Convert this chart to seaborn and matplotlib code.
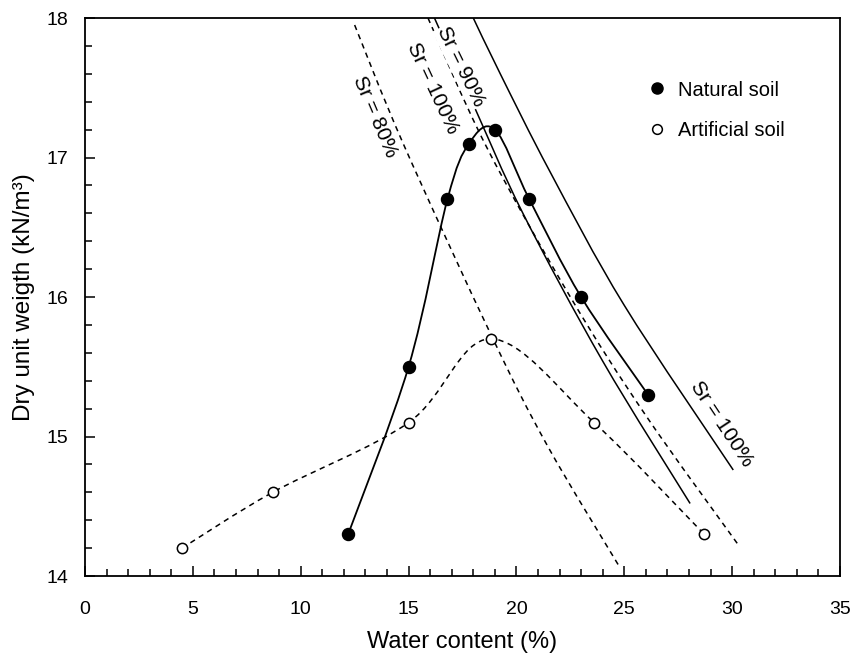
import numpy as np
import pandas as pd
import matplotlib
matplotlib.use("Agg")
import matplotlib.pyplot as plt
from matplotlib.path import Path
from matplotlib.patches import PathPatch
from matplotlib.lines import Line2D
from matplotlib.ticker import MultipleLocator
import seaborn as sns

# ---- data ----
natural_w = [12.2, 15.0, 16.8, 17.8, 19.0, 20.6, 23.0, 26.1]
natural_gd = [14.3, 15.5, 16.7, 17.1, 17.2, 16.7, 16.0, 15.3]

artificial_w = [4.5, 8.7, 15.0, 18.8, 23.6, 28.7]
artificial_gd = [14.2, 14.6, 15.1, 15.7, 15.1, 14.3]

# saturation lines
sr80_w = [12.5, 14.75, 18.85, 21.45, 24.8]
sr80_gd = [17.95, 17.1, 15.72, 14.93, 14.06]

sr100a_w = [15.9, 18.6, 22.5, 26.0, 30.3]
sr100a_gd = [18.0, 17.08, 16.0, 15.15, 14.22]

sr90n_w = [16.2, 18.0, 20.3, 24.0, 28.05]
sr90n_gd = [18.0, 17.38, 16.6, 15.54, 14.52]

sr100n_w = [18.0, 19.25, 21.55, 25.0, 30.05]
sr100n_gd = [18.0, 17.6, 16.9, 15.94, 14.76]

x_ticks = [0, 5, 10, 15, 20, 25, 30, 35]
y_ticks = [14, 15, 16, 17, 18]

sns.set_theme(style="white")
plt.rcParams['font.family'] = ['Liberation Sans', 'DejaVu Sans']
plt.rcParams.update({'text.color': 'black', 'axes.labelcolor': 'black',
                     'xtick.color': 'black', 'ytick.color': 'black'})

fig = plt.figure(figsize=(8.55, 6.58), dpi=100)
ax = fig.add_axes([0.0994, 0.1246, 0.8831, 0.848])

def smooth_path(xs, ys):
    """Excel-like smoothed line: cubic Bezier segments through the points."""
    P = np.column_stack([xs, ys]).astype(float)
    n = len(P)
    verts = [tuple(P[0])]
    codes = [Path.MOVETO]
    for i in range(n - 1):
        p0 = P[i - 1] if i > 0 else P[i]
        p1 = P[i]
        p2 = P[i + 1]
        p3 = P[i + 2] if i + 2 < n else P[i + 1]
        c1 = p1 + (p2 - p0) / 6.0
        c2 = p2 - (p3 - p1) / 6.0
        verts += [tuple(c1), tuple(c2), tuple(p2)]
        codes += [Path.CURVE4] * 3
    return Path(verts, codes)

dash = (0, (3.5, 3))

# saturation lines (smoothed through the read points)
for w, g, ls in [(sr80_w, sr80_gd, 'dashed'), (sr100a_w, sr100a_gd, 'dashed'),
                 (sr90n_w, sr90n_gd, 'solid'), (sr100n_w, sr100n_gd, 'solid')]:
    ax.add_patch(PathPatch(smooth_path(w, g), fill=False, edgecolor='black',
                           lw=1.1, linestyle=dash if ls == 'dashed' else '-',
                           zorder=2))

# smoothed compaction curves
ax.add_patch(PathPatch(smooth_path(natural_w, natural_gd), fill=False,
                       edgecolor='black', lw=1.3, zorder=3))
ax.add_patch(PathPatch(smooth_path(artificial_w, artificial_gd), fill=False,
                       edgecolor='black', lw=1.1, linestyle=dash, zorder=3))

# points
nat_df = pd.DataFrame({'w': natural_w, 'gd': natural_gd})
art_df = pd.DataFrame({'w': artificial_w, 'gd': artificial_gd})
sns.scatterplot(data=nat_df, x='w', y='gd', ax=ax, s=75, color='black',
                edgecolor='black', linewidth=1, zorder=5)
sns.scatterplot(data=art_df, x='w', y='gd', ax=ax, s=55, facecolor='white',
                edgecolor='black', linewidth=1.1, zorder=5)

# labels on lines
txt_kw = dict(fontsize=15, color='black', ha='center', va='center',
              rotation_mode='anchor')
ax.text(13.45, 17.29, 'Sr = 80%', rotation=-67, **txt_kw)
ax.text(16.13, 17.5, 'Sr = 100%', rotation=-65, **txt_kw)
ax.text(17.43, 17.65, 'Sr = 90%', rotation=-64, zorder=4, clip_on=False,
        bbox=dict(boxstyle='square,pad=0.05', fc='white', ec='none'), **txt_kw)
ax.text(29.53, 15.09, 'Sr = 100%', rotation=-56.5, **txt_kw)

ax.set_xlim(0, 35)
ax.set_ylim(14, 18)
ax.set_xticks(x_ticks)
ax.set_yticks(y_ticks)
ax.xaxis.set_minor_locator(MultipleLocator(1))
ax.yaxis.set_minor_locator(MultipleLocator(0.2))
ax.tick_params(which='both', direction='in', bottom=True, left=True,
               top=False, right=False, color='black', labelcolor='black',
               width=1.1)
ax.tick_params(which='major', length=7)
ax.tick_params(which='minor', length=5)
ax.tick_params(axis='x', which='major', pad=18, labelsize=14)
ax.tick_params(axis='y', which='major', pad=12, labelsize=14)
for sp in ax.spines.values():
    sp.set_visible(True)
    sp.set_color('black')
    sp.set_linewidth(1.3)

ax.set_xlabel('Water content (%)', fontsize=17, labelpad=9, color='black')
ax.set_ylabel('Dry unit weigth (kN/m³)', fontsize=17.5, labelpad=8,
              color='black')

handles = [
    Line2D([], [], marker='o', ls='none', color='black', markersize=8),
    Line2D([], [], marker='o', ls='none', markerfacecolor='white',
           markeredgecolor='black', markersize=7, markeredgewidth=1.1),
]
leg = ax.legend(handles, ['Natural soil', 'Artificial soil'], frameon=False,
                loc='center left', bbox_to_anchor=(0.72, 0.835), fontsize=14.5,
                handletextpad=0.55, labelspacing=1.05, handlelength=1.0)
for t in leg.get_texts():
    t.set_color('black')

fig.savefig('out.png', dpi=100)
